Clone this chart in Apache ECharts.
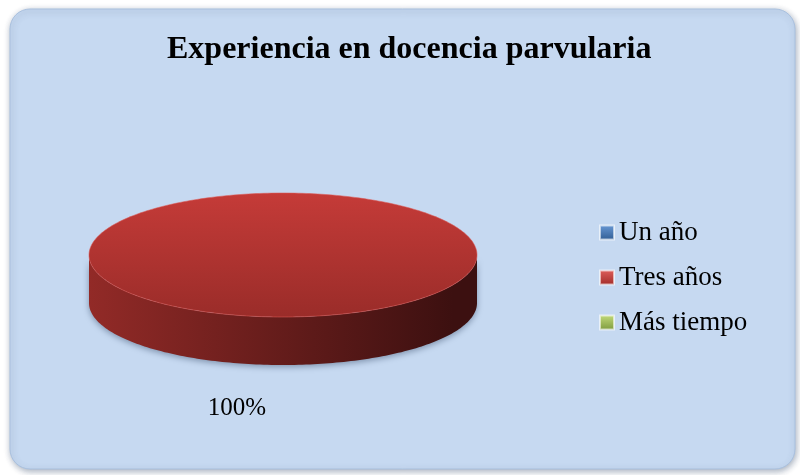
<!DOCTYPE html>
<html>
<head>
<meta charset="utf-8">
<script src="https://cdn.jsdelivr.net/npm/echarts@6/dist/echarts.min.js"></script>
<style>
  html, body { margin: 0; padding: 0; background: #ffffff; }
  #main { width: 800px; height: 475px; }
</style>
</head>
<body>
<div id="main"></div>
<script>
// datos del grafico
var categories = ['Un año', 'Tres años', 'Más tiempo'];
var values = [0, 100, 0];
var legendColors = [['#6a9ad6', '#2f5c93'], ['#e0605c', '#a02b28'], ['#c4dc7c', '#7d9a3c']];
var topColors = [['#5b8fcf', '#3e6ea8'], ['#c53b38', '#9a2c29'], ['#a9c865', '#86a247']];
var sideColors = [['#3a6496', '#142a45'], ['#922a27', '#3c1010'], ['#7a9640', '#2f3c14']];

var myChart = echarts.init(document.getElementById('main'));

var total = values.reduce(function (a, b) { return a + b; }, 0);

// geometria del pastel 3D
var cx = 283, cy = 255, rx = 194, ry = 62, depth = 48;

function arcPoints(a0, a1, dy) {
    var pts = [];
    var n = Math.max(2, Math.ceil((a1 - a0) / 0.02));
    for (var k = 0; k <= n; k++) {
        var a = a0 + (a1 - a0) * k / n;
        pts.push([cx + rx * Math.cos(a), cy + ry * Math.sin(a) + dy]);
    }
    return pts;
}

function makeRender(idx) {
    return function (params, api) {
        if (!values[idx]) return null;
        var before = 0;
        for (var j = 0; j < idx; j++) before += values[j];
        // empieza arriba, sentido horario
        var a0 = -Math.PI / 2 + 2 * Math.PI * before / total;
        var a1 = a0 + 2 * Math.PI * values[idx] / total;
        var children = [];

        // cara lateral (solo la parte visible, angulos entre 0 y PI)
        var ranges = [];
        [[a0, a1], [a0 + 2 * Math.PI, a1 + 2 * Math.PI], [a0 - 2 * Math.PI, a1 - 2 * Math.PI]].forEach(function (r) {
            var s = Math.max(r[0], 0), e = Math.min(r[1], Math.PI);
            if (e > s) ranges.push([s, e]);
        });
        ranges.forEach(function (r) {
            var topArc = arcPoints(r[0], r[1], 0);
            var botArc = arcPoints(r[0], r[1], depth).reverse();
            children.push({
                type: 'polygon',
                shape: { points: topArc.concat(botArc) },
                style: {
                    fill: new echarts.graphic.LinearGradient(1, 0, 0, 0, [
                        { offset: 0, color: sideColors[idx][1] },
                        { offset: 0.06, color: sideColors[idx][1] },
                        { offset: 1, color: sideColors[idx][0] }
                    ]),
                    shadowBlur: 6,
                    shadowColor: 'rgba(40,60,90,0.45)',
                    shadowOffsetY: 2
                }
            });
        });

        // cara superior
        var topPts = arcPoints(a0, a1, 0);
        if (values[idx] < total) topPts.unshift([cx, cy]);
        children.push({
            type: 'polygon',
            shape: { points: topPts },
            style: {
                fill: new echarts.graphic.LinearGradient(0, 0, 0, 1, [
                    { offset: 0, color: topColors[idx][0] },
                    { offset: 1, color: topColors[idx][1] }
                ]),
                stroke: 'rgba(220,90,85,0.55)',
                lineWidth: 1
            }
        });

        // etiqueta de porcentaje
        children.push({
            type: 'text',
            style: {
                text: Math.round(values[idx] / total * 100) + '%',
                x: 237, y: 408,
                align: 'center', verticalAlign: 'middle',
                fill: '#000000',
                font: '25px "Liberation Serif", "Times New Roman", serif'
            }
        });

        return { type: 'group', children: children };
    };
}

var series = categories.map(function (name, i) {
    return {
        name: name,
        type: 'custom',
        coordinateSystem: 'none',
        silent: true,
        itemStyle: {
            color: new echarts.graphic.LinearGradient(0, 0, 0, 1, [
                { offset: 0, color: legendColors[i][0] },
                { offset: 1, color: legendColors[i][1] }
            ]),
            borderColor: 'rgba(255,255,255,0.6)',
            borderWidth: 1
        },
        data: [[i, values[i]]],
        renderItem: makeRender(i)
    };
});

var option = {
    animation: false,
    backgroundColor: 'transparent',
    graphic: [
        {
            type: 'rect',
            z: -10,
            shape: { x: 10, y: 9, width: 785, height: 460, r: 20 },
            style: {
                fill: '#c6d9f1',
                stroke: '#a9c0de',
                lineWidth: 1,
                shadowBlur: 6,
                shadowColor: 'rgba(60,80,110,0.45)',
                shadowOffsetX: 1,
                shadowOffsetY: 2
            }
        }
    ],
    title: {
        text: 'Experiencia en docencia parvularia',
        left: 162,
        top: 29,
        textStyle: {
            fontFamily: '"Liberation Serif", "Times New Roman", serif',
            fontSize: 32,
            fontWeight: 'bold',
            color: '#000000'
        }
    },
    legend: {
        orient: 'vertical',
        left: 594,
        top: 214,
        itemWidth: 14,
        itemHeight: 14,
        itemGap: 18,
        icon: 'rect',
        data: categories,
        textStyle: {
            fontFamily: '"Liberation Serif", "Times New Roman", serif',
            fontSize: 27,
            color: '#000000'
        }
    },
    series: series
};

myChart.setOption(option);
</script>
</body>
</html>
